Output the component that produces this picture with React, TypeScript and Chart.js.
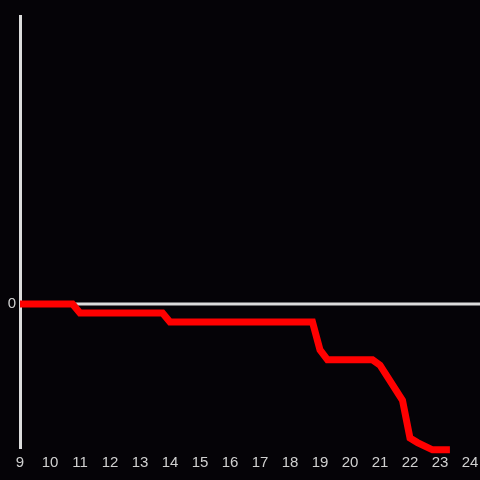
import React, { useEffect, useRef } from "react";
import { Chart, registerables } from "chart.js";

Chart.register(...registerables);

const hours = [9, 10.75, 11, 13.75, 14, 18.75, 19, 19.25, 20.75, 21, 21.75, 22, 22.25, 22.75, 23.33];
const values = [0, 0, -1, -1, -2, -2, -5.1, -6.2, -6.2, -6.8, -10.7, -14.9, -15.4, -16.2, -16.2];
const xTicks = [9, 10, 11, 12, 13, 14, 15, 16, 17, 18, 19, 20, 21, 22, 23, 24];
const yLabelValues = [0];

const BG = "#050307";
const AXIS = "#dcdcdc";
const TEXT = "#d0d0d0";

const bgPlugin = {
  id: "bg",
  beforeDraw(chart: any) {
    const ctx = chart.ctx;
    ctx.save();
    ctx.fillStyle = BG;
    ctx.fillRect(0, 0, chart.width, chart.height);
    ctx.restore();
  },
  beforeDatasetsDraw(chart: any) {
    const ctx = chart.ctx;
    const y = chart.scales.y.getPixelForValue(0);
    ctx.save();
    ctx.strokeStyle = AXIS;
    ctx.lineWidth = 3;
    ctx.beginPath();
    ctx.moveTo(chart.chartArea.left, y);
    ctx.lineTo(chart.width, y);
    ctx.stroke();
    ctx.restore();
  },
};

export default function App() {
  const ref = useRef<HTMLCanvasElement>(null);
  useEffect(() => {
    const chart = new Chart(ref.current!, {
      type: "line",
      data: {
        datasets: [
          {
            data: hours.map((h, i) => ({ x: h, y: values[i] })),
            borderColor: "#ff0000",
            borderWidth: 7,
            pointRadius: 0,
            tension: 0,
            clip: false as any,
          },
        ],
      },
      options: {
        animation: false,
        responsive: false,
        layout: { padding: { top: 16, right: 10, left: 0, bottom: 0 } },
        plugins: { legend: { display: false }, tooltip: { enabled: false } },
        scales: {
          x: {
            type: "linear",
            min: 9,
            max: 24,
            afterBuildTicks: (s: any) => {
              s.ticks = xTicks.map((v) => ({ value: v }));
            },
            afterFit: (s: any) => {
              s.height = 32;
              s.paddingLeft = 0;
              s.paddingRight = 0;
            },
            grid: { display: false, drawTicks: false },
            border: { display: false },
            ticks: {
              color: TEXT,
              font: { size: 15, family: "Liberation Sans, Arial, sans-serif" },
              padding: 6,
              autoSkip: false,
              maxRotation: 0,
            },
          },
          y: {
            min: -16,
            max: 32,
            afterBuildTicks: (s: any) => {
              s.ticks = yLabelValues.map((v) => ({ value: v }));
            },
            afterFit: (s: any) => {
              s.width = 20;
              s.paddingTop = 0;
              s.paddingBottom = 0;
            },
            grid: { display: false, drawTicks: false },
            border: { display: true, color: AXIS, width: 3 },
            ticks: {
              color: TEXT,
              font: { size: 15, family: "Liberation Sans, Arial, sans-serif" },
              padding: 4,
            },
          },
        },
      },
      plugins: [bgPlugin],
    });
    return () => chart.destroy();
  }, []);
  return (
    <div style={{ position: "fixed", left: 0, top: 0, width: 480, height: 480, background: BG }}>
      <canvas ref={ref} width={480} height={480} style={{ display: "block" }} />
    </div>
  );
}
